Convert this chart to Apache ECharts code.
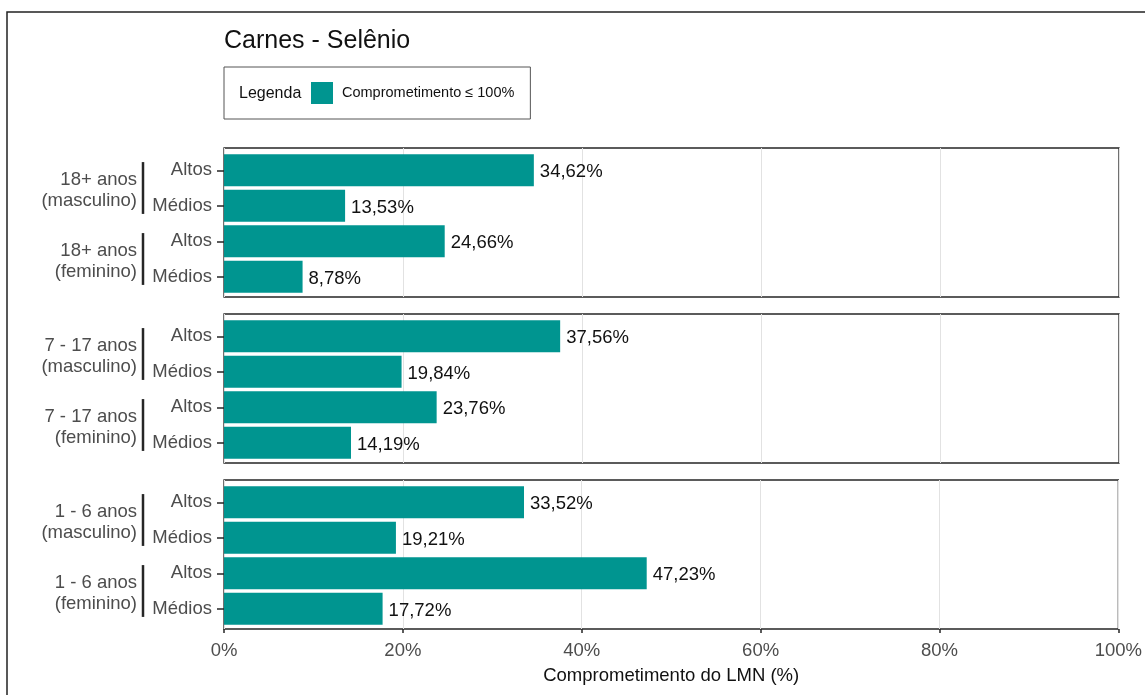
<!DOCTYPE html>
<html>
<head>
<meta charset="utf-8">
<script src="https://cdn.jsdelivr.net/npm/echarts@6/dist/echarts.min.js"></script>
<style>
  html, body { margin: 0; padding: 0; background: #fff; }
  #chart { width: 1145px; height: 695px; }
</style>
</head>
<body>
<div id="chart"></div>
<script>
// Facet panels, top to bottom
const ageGroups = ['18+ anos', '7 - 17 anos', '1 - 6 anos'];
const sexes = ['masculino', 'feminino'];
const levels = ['Altos', 'Médios'];

// Comprometimento do LMN (%) per panel: masculino Altos, masculino Médios, feminino Altos, feminino Médios
const adultValues = [34.62, 13.53, 24.66, 8.78];
const teenValues = [37.56, 19.84, 23.76, 14.19];
const childValues = [33.52, 19.21, 47.23, 17.72];
const panelValues = [adultValues, teenValues, childValues];

const xTicks = [0, 20, 40, 60, 80, 100];
const titleText = 'Carnes - Selênio';
const legendTitle = 'Legenda';
const seriesName = 'Comprometimento ≤ 100%';
const xAxisName = 'Comprometimento do LMN (%)';

const FONT = '"Liberation Sans", Arial, Helvetica, sans-serif';
const TEAL = '#009590';
const DARK = '#262626';
const GREY_TEXT = '#4d4d4d';

// layout
const plotLeft = 224;
const plotRight = 1145 - 1119;
const panelTops = [148, 314, 480];
const panelHeight = 149;
const slotHeight = 35.5;

const categoryKeys = [];
sexes.forEach(s => levels.forEach(l => categoryKeys.push(s + '|' + l)));

const fmtPct = v => v.toFixed(2).replace('.', ',') + '%';

const grids = [], xAxes = [], yAxes = [], series = [];

panelTops.forEach((top, p) => {
  const innerH = slotHeight * categoryKeys.length;
  const isBottom = p === panelTops.length - 1;

  // frame grid: panel border + vertical grid lines (+ bottom axis)
  grids.push({
    left: plotLeft, right: plotRight, top: top, height: panelHeight,
    show: true, borderColor: DARK, borderWidth: 1.3, containLabel: false
  });
  const frameIdx = grids.length - 1;
  xAxes.push({
    gridIndex: frameIdx, type: 'value', min: 0, max: 100, interval: 20,
    axisLine: { show: false },
    axisTick: { show: isBottom, length: 4, lineStyle: { color: DARK, width: 1.5 } },
    axisLabel: {
      show: isBottom, margin: 12, color: GREY_TEXT, fontSize: 18.5, fontFamily: FONT,
      formatter: v => xTicks.includes(v) ? v + '%' : ''
    },
    splitLine: { show: true, lineStyle: { color: '#e2e2e2', width: 1 } },
    name: isBottom ? xAxisName : '',
    nameLocation: 'middle', nameGap: 37,
    nameTextStyle: { color: '#111', fontSize: 18.5, fontFamily: FONT }
  });
  yAxes.push({ gridIndex: frameIdx, type: 'value', min: 0, max: 1, show: false });

  // bar grid
  grids.push({
    left: plotLeft, right: plotRight, top: top + 1 + (panelHeight - innerH) / 2, height: innerH,
    containLabel: false
  });
  const barIdx = grids.length - 1;
  xAxes.push({ gridIndex: barIdx, type: 'value', min: 0, max: 100, show: false });
  yAxes.push({
    gridIndex: barIdx, type: 'category', inverse: true, data: categoryKeys,
    axisLine: { show: false },
    axisTick: { show: true, alignWithLabel: true, length: 7, lineStyle: { color: DARK, width: 1.5 } },
    axisLabel: {
      margin: 12, color: GREY_TEXT, fontSize: 18.5, fontFamily: FONT,
      padding: [3, 0, 0, 0],
      formatter: v => v.split('|')[1]
    },
    splitLine: { show: false }
  });

  series.push({
    name: seriesName, type: 'bar', xAxisIndex: xAxes.length - 1, yAxisIndex: yAxes.length - 1,
    data: panelValues[p], barCategoryGap: '10%',
    itemStyle: { color: TEAL },
    label: {
      show: true, position: 'right', distance: 6, offset: [0, 2], color: '#111',
      fontSize: 18.5, fontFamily: FONT, formatter: d => fmtPct(d.value)
    },
    z: 2
  });

  // age/sex group labels with bracket lines
  const groupLabels = sexes.map(s => ageGroups[p] + '\n(' + s + ')');
  series.push({
    type: 'custom', xAxisIndex: xAxes.length - 1, yAxisIndex: yAxes.length - 1,
    data: [[0, 1], [2, 3]], clip: false, silent: true, z: 3,
    encode: { y: [0, 1] },
    renderItem: (params, api) => {
      const a = api.coord([0, api.value(0)]);
      const b = api.coord([0, api.value(1)]);
      const slot = api.size([0, 1])[1];
      const x = a[0] - 81;
      const ext = slot * 0.23;
      return {
        type: 'group',
        children: [
          { type: 'line', shape: { x1: x, y1: a[1] - ext, x2: x, y2: b[1] + ext },
            style: { stroke: DARK, lineWidth: 2.5 } },
          { type: 'text', x: x - 6, y: (a[1] + b[1]) / 2 + 2,
            style: { text: groupLabels[params.dataIndex], align: 'right', verticalAlign: 'middle',
                     fontSize: 18.5, fontFamily: FONT, fill: GREY_TEXT, lineHeight: 21 } }
        ]
      };
    }
  });
});

const chart = echarts.init(document.getElementById('chart'), null, { renderer: 'canvas' });
chart.setOption({
  animation: false,
  backgroundColor: '#ffffff',
  textStyle: { fontFamily: FONT },
  title: {
    text: titleText, left: 224, top: 29, padding: 0,
    textStyle: { color: '#111', fontSize: 25, fontWeight: 'normal', fontFamily: FONT }
  },
  legend: {
    left: 224, top: 67, orient: 'horizontal',
    padding: [15, 16, 15, 87],
    borderColor: '#555', borderWidth: 1,
    itemWidth: 22, itemHeight: 22, icon: 'rect',
    data: [seriesName],
    textStyle: { color: '#111', fontSize: 14.5, fontFamily: FONT, padding: [2, 0, 0, 4] },
    selectedMode: false
  },
  graphic: [
    { type: 'polyline', shape: { points: [[7, 695], [7, 12], [1145, 12]] },
      style: { stroke: '#222', lineWidth: 1.5, fill: null }, silent: true },
    { type: 'text', left: 239, top: 86,
      style: { text: legendTitle, fontSize: 16, fontFamily: FONT, fill: '#111' } }
  ],
  grid: grids,
  xAxis: xAxes,
  yAxis: yAxes,
  series: series
});
</script>
</body>
</html>
